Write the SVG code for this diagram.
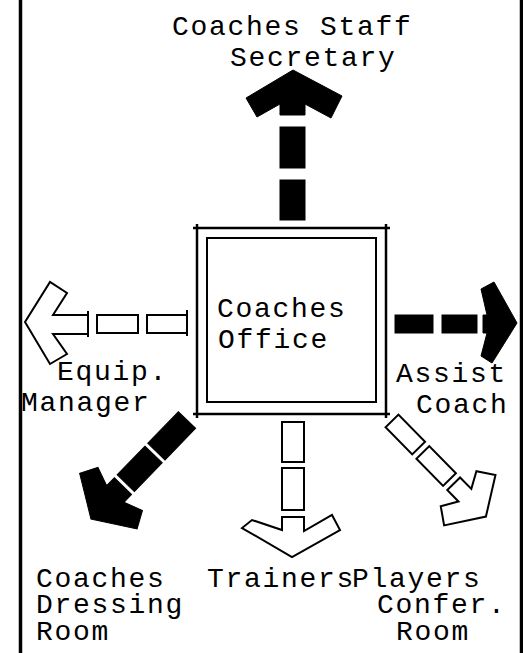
<svg xmlns="http://www.w3.org/2000/svg" width="523" height="653" viewBox="0 0 523 653">
<style>
.t{font-family:"Liberation Mono","DejaVu Sans Mono",monospace;font-size:28px;letter-spacing:1.7px;fill:#000}
.blk{fill:#000;stroke:#000;stroke-width:1;stroke-linejoin:miter}
.wht{fill:#fff;stroke:#000;stroke-width:2;stroke-linejoin:miter}
.ln{stroke:#000;fill:none}
</style>
<rect x="0" y="0" width="523" height="653" fill="#fff"/>
<g id="frame">
<line class="ln" x1="20.5" y1="0" x2="20.5" y2="653" stroke-width="3.5"/>
<line class="ln" x1="521.5" y1="0" x2="521.5" y2="653" stroke-width="3.5"/>
</g>
<g id="connectors">
<g id="to-secretary">
<rect class="blk" x="280" y="127" width="25" height="41"/>
<rect class="blk" x="280" y="180" width="25" height="40"/>
<polygon class="blk" points="293,70 342,96 331,118 305,104 305,115 280,115 280,104 257,117 246,98"/>
</g>
<g id="to-assist">
<rect class="blk" x="395" y="315" width="38" height="18"/>
<rect class="blk" x="442" y="315" width="35" height="18"/>
<polygon class="blk" points="517,323 494,282 481,289 487,315 483,315 483,333 487,333 481,356 492,363"/>
</g>
<g id="to-equip">
<polygon class="wht" points="25,322 50,282 67,293 53,315 88,315 88,334 53,334 67,354 50,364"/>
<rect class="wht" x="97" y="315" width="41" height="18"/>
<rect class="wht" x="147" y="315" width="40" height="18"/>
<line class="ln" x1="88" y1="311" x2="88" y2="337" stroke-width="2"/>
<line class="ln" x1="187" y1="310" x2="187" y2="336" stroke-width="2"/>
</g>
<g id="to-trainers">
<rect class="wht" x="282" y="422" width="22" height="40"/>
<rect class="wht" x="282" y="468" width="22" height="42"/>
<polygon class="wht" points="282,517 304,517 304,531 332,515 340,530 292,557 242,528 252,520 282,530"/>
</g>
<g id="to-dressing" transform="translate(187,420) rotate(134.1)">
<rect class="blk" x="0" y="-12" width="44" height="24"/>
<rect class="blk" x="48" y="-12" width="40" height="24"/>
<polygon class="blk" points="92,-12 103,-12 96,-31 113,-40 138,0 113,40 96,31 103,12 92,12"/>
</g>
<g id="to-players" transform="translate(392,421) rotate(45.5)">
<rect class="wht" x="0" y="-9" width="38" height="18"/>
<rect class="wht" x="44" y="-9" width="38" height="18"/>
<polygon class="wht" points="88,-9 104,-9 95,-25 111,-36 134,0 111,36 95,25 104,9 88,9"/>
</g>
</g>
<g id="office">
<line class="ln" x1="193" y1="228" x2="390" y2="228" stroke-width="2.5"/>
<line class="ln" x1="193" y1="414" x2="390" y2="414" stroke-width="2.5"/>
<line class="ln" x1="197" y1="224" x2="197" y2="418" stroke-width="2.5"/>
<line class="ln" x1="386" y1="224" x2="386" y2="418" stroke-width="2.5"/>
<rect x="207" y="238" width="169" height="164" fill="none" stroke="#000" stroke-width="2"/>
<text class="t" x="217" y="317">Coaches</text>
<text class="t" x="218" y="348">Office</text>
</g>
<g id="secretary">
<text class="t" x="172" y="35">Coaches Staff</text>
<text class="t" x="230" y="66">Secretary</text>
</g>
<g id="equip">
<text class="t" x="57" y="380">Equip.</text>
<text class="t" x="21" y="411">Manager</text>
</g>
<g id="assist">
<text class="t" x="396" y="382">Assist</text>
<text class="t" x="416" y="413">Coach</text>
</g>
<g id="dressing">
<text class="t" x="36" y="587">Coaches</text>
<text class="t" x="36" y="613">Dressing</text>
<text class="t" x="36" y="640">Room</text>
</g>
<g id="trainers">
<text class="t" x="207" y="587">Trainers</text>
</g>
<g id="players">
<text class="t" x="352" y="587">Players</text>
<text class="t" x="377" y="613">Confer.</text>
<text class="t" x="396" y="640">Room</text>
</g>
</svg>
